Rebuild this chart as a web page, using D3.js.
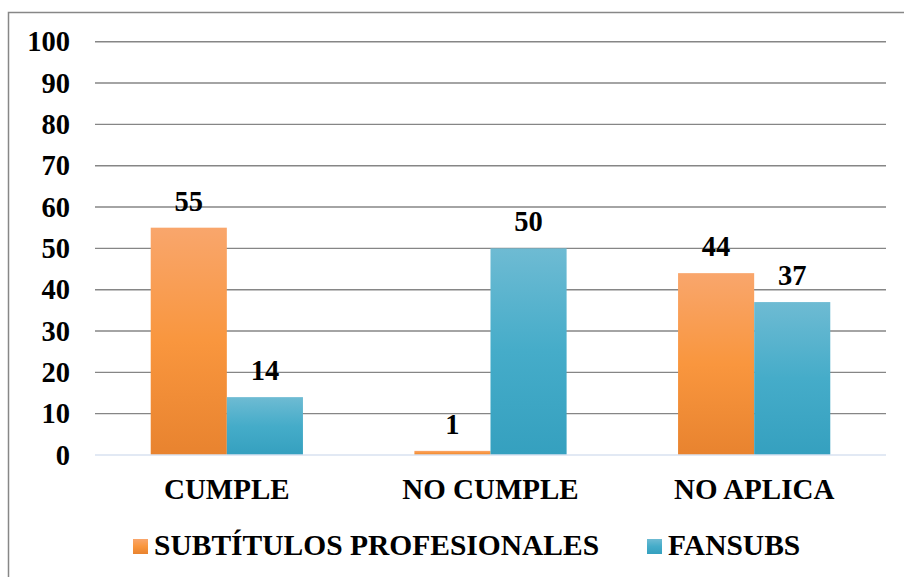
<!DOCTYPE html>
<html>
<head>
<meta charset="UTF-8">
<script src="https://cdn.jsdelivr.net/npm/d3@7"></script>
</head>
<body style="margin:0">
<svg id="chart" width="904" height="577"></svg>
<script>
// data
const categories = ["CUMPLE", "NO CUMPLE", "NO APLICA"];
const seriesNames = ["SUBTÍTULOS PROFESIONALES", "FANSUBS"];
const profesionales = [55, 1, 44];
const fansubs = [14, 50, 37];
const yTicks = [0, 10, 20, 30, 40, 50, 60, 70, 80, 90, 100];

const svg = d3.select("#chart");

// gradients for the bars
const defs = svg.append("defs");
const grads = [
  { id: "gOrange", top: "#f9a66c", mid: "#f9963e", bot: "#e8832f" },
  { id: "gBlue", top: "#6ebbd3", mid: "#45acc9", bot: "#35a0bf" }
];
grads.forEach(g => {
  const lg = defs.append("linearGradient").attr("id", g.id)
    .attr("x1", 0).attr("y1", 0).attr("x2", 0).attr("y2", 1);
  lg.append("stop").attr("offset", "0%").attr("stop-color", g.top);
  lg.append("stop").attr("offset", "50%").attr("stop-color", g.mid);
  lg.append("stop").attr("offset", "100%").attr("stop-color", g.bot);
});

// outer frame (runs off the right and bottom edge)
svg.append("rect")
  .attr("x", 8.5).attr("y", 12.5)
  .attr("width", 920).attr("height", 600)
  .attr("fill", "none").attr("stroke", "#878787").attr("stroke-width", 1.5);

const plotLeft = 95, plotRight = 886, plotTop = 41.7, plotBottom = 455;

const y = d3.scaleLinear().domain([0, 100]).range([plotBottom, plotTop]);
const x0 = d3.scaleBand().domain(categories).range([plotLeft, plotRight])
  .paddingInner(0.4227).paddingOuter(0.21135);
const x1 = d3.scaleBand().domain(seriesNames).range([0, x0.bandwidth()]);

// all labels: bold Times-like serif
const label = (sel, size) => sel
  .attr("font-family", "Times New Roman")
  .attr("font-weight", "bold")
  .attr("font-size", size)
  .attr("fill", "#000");

// gridlines
svg.append("g").selectAll("line")
  .data(yTicks.filter(d => d > 0))
  .join("line")
  .attr("x1", plotLeft).attr("x2", plotRight)
  .attr("y1", d => y(d)).attr("y2", d => y(d))
  .attr("stroke", "#868686").attr("stroke-width", 1.4);

// y labels
svg.append("g").selectAll("text")
  .data(yTicks)
  .join("text")
  .call(label, 28.5)
  .attr("x", 70).attr("y", d => y(d))
  .attr("dy", "0.34em")
  .attr("text-anchor", "end")
  .text(d => d);

// bars
const rows = categories.map((c, i) => ({ cat: c, vals: [profesionales[i], fansubs[i]] }));
const fills = ["url(#gOrange)", "url(#gBlue)"];

const groups = svg.append("g").selectAll("g")
  .data(rows)
  .join("g")
  .attr("transform", d => `translate(${x0(d.cat)},0)`);

groups.selectAll("rect")
  .data(d => d.vals.map((v, j) => ({ name: seriesNames[j], v, j })))
  .join("rect")
  .attr("x", d => x1(d.name))
  .attr("y", d => y(d.v))
  .attr("width", x1.bandwidth())
  .attr("height", d => y(0) - y(d.v))
  .attr("fill", d => fills[d.j]);

groups.selectAll("text")
  .data(d => d.vals.map((v, j) => ({ name: seriesNames[j], v, j })))
  .join("text")
  .call(label, 28.5)
  .attr("x", d => x1(d.name) + x1.bandwidth() / 2)
  .attr("y", d => y(d.v) - 17)
  .attr("text-anchor", "middle")
  .text(d => d.v);

// zero line
svg.append("line")
  .attr("x1", plotLeft).attr("x2", plotRight)
  .attr("y1", y(0)).attr("y2", y(0))
  .attr("stroke", "#d9e2f0").attr("stroke-width", 1.5);

// category labels
svg.append("g").selectAll("text")
  .data(categories)
  .join("text")
  .call(label, 29)
  .attr("x", d => x0(d) + x0.bandwidth() / 2)
  .attr("y", 499)
  .attr("text-anchor", "middle")
  .text(d => d);

// legend
const legendX = [133, 647];
const legend = svg.append("g").selectAll("g")
  .data(seriesNames)
  .join("g")
  .attr("transform", (d, i) => `translate(${legendX[i]},539)`);

legend.append("rect")
  .attr("width", 15).attr("height", 15)
  .attr("fill", (d, i) => fills[i]);

legend.append("text")
  .call(label, 29.5)
  .attr("x", 21).attr("y", 16)
  .text(d => d);
</script>
</body>
</html>
